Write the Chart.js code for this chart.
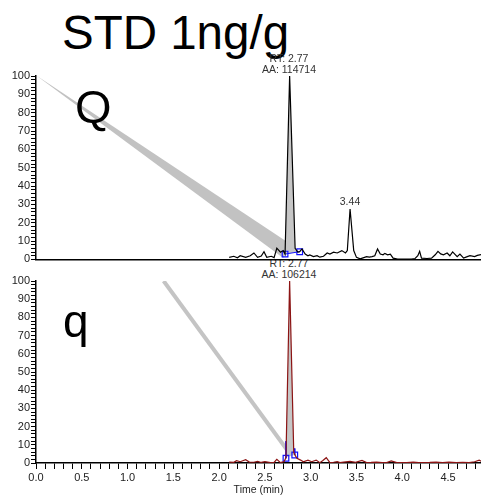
<!DOCTYPE html>
<html>
<head>
<meta charset="utf-8">
<script src="https://cdn.jsdelivr.net/npm/chart.js@4/dist/chart.umd.min.js"></script>
<style>
  html, body { margin: 0; padding: 0; background: #fff; }
  body { width: 481px; height: 496px; position: relative; overflow: hidden;
         font-family: "Liberation Sans", Arial, sans-serif; }
  .t { position: absolute; line-height: 1; white-space: nowrap; color: #000; }
  .ann { position: absolute; line-height: 1; white-space: nowrap; color: #333;
         font-size: 10.5px; width: 100px; text-align: center; }
  canvas { position: absolute; left: 0; }
</style>
</head>
<body>
<div class="t" style="left:62px;top:9px;font-size:47.5px;">STD 1ng/g</div>
<div class="ann" style="left:239px;top:258px;">RT: 2.77</div>
<div class="ann" style="left:239px;top:269px;">AA: 106214</div>
<canvas id="quanChart" width="481" height="204" style="top:63px"></canvas>
<canvas id="qualChart" width="481" height="231" style="top:265px"></canvas>
<div class="t" style="left:75px;top:83px;font-size:47px;">Q</div>
<div class="t" style="left:63px;top:298px;font-size:46px;">q</div>
<div class="ann" style="left:239px;top:53px;">RT: 2.77</div>
<div class="ann" style="left:239px;top:64px;">AA: 114714</div>
<div class="ann" style="left:300px;top:196px;">3.44</div>

<script>
// quantifier trace (Q), time in min, relative abundance in %
const quanTime = [2.11, 2.16, 2.20, 2.23, 2.29, 2.34, 2.38, 2.42, 2.46, 2.49, 2.52, 2.57, 2.60, 2.63, 2.67, 2.70,
  2.72, 2.77, 2.83, 2.86, 2.88, 2.905, 2.94, 2.97, 2.99, 3.03, 3.07, 3.10, 3.14, 3.18, 3.21, 3.25, 3.29,
  3.34, 3.38, 3.40, 3.43, 3.47, 3.50, 3.54, 3.58, 3.61, 3.64, 3.67, 3.70, 3.73, 3.76, 3.79, 3.81, 3.84,
  3.87, 3.90, 3.95, 4.00, 4.05, 4.10, 4.14, 4.17, 4.19, 4.21, 4.27, 4.32, 4.36, 4.39, 4.42, 4.45, 4.49,
  4.52, 4.55, 4.60, 4.63, 4.67, 4.71, 4.74, 4.79, 4.82, 4.86];
const quanInt = [1.1, 1.7, 0.9, 2.0, 1.1, 2.0, 3.5, 1.1, 1.8, 4.2, 1.1, 1.7, 1.0, 6.1, 3.9, 4.8,
  2.9, 100, 6, 4, 4.2, 5.7, 2.9, 2.0, 2.4, 1.5, 2.0, 1.2, 1.7, 3.5, 2.9, 3.9, 3.5,
  4.8, 3.5, 4.8, 27.5, 4.8, 1.1, 0.3, 1.0, 1.5, 1.2, 1.5, 2.0, 5.7, 2.9, 2.5, 3.3, 2.5,
  2.9, 0.7, 0.2, 0.2, 0.2, 0.2, 0.5, 2.0, 4.4, 0.7, 0.5, 0.7, 2.5, 4.4, 3.0, 2.5, 3.5,
  2.0, 4.1, 1.5, 2.9, 0.7, 1.5, 2.0, 1.5, 2.2, 2.6];

// qualifier trace (q)
const qualTime = [2.11, 2.16, 2.19, 2.23, 2.29, 2.33, 2.38, 2.42, 2.46, 2.50, 2.56, 2.60, 2.63, 2.67, 2.71,
  2.73, 2.77, 2.815, 2.826, 2.85, 2.89, 2.92, 2.97, 3.01, 3.06, 3.10, 3.13, 3.17, 3.21, 3.25, 3.29, 3.32,
  3.36, 3.43, 3.49, 3.56, 3.61, 3.66, 3.72, 3.78, 3.83, 3.88, 3.94, 4.05, 4.12, 4.18, 4.23, 4.30, 4.37,
  4.44, 4.51, 4.59, 4.66, 4.73, 4.79, 4.84, 4.86];
const qualInt = [0.5, 0.4, 1.3, 0.7, 1.8, 0.5, 0.4, 0.9, 0.3, 0.7, 0.2, 0.3, 2.0, 0.2, 0.8,
  3.0, 100, 6, 4.6, 2.6, 1.6, 0.7, 1.6, 0.7, 1.6, 0.2, 1.2, 2.9, 0.2, 0.4, 0.7, 0.2,
  0.5, 0.9, 0.4, 1.4, 0.2, 0.3, 0.5, 0.2, 0.2, 1.1, 0.2, 0.2, 0.5, 0.2, 0.2, 0.3, 0.5,
  0.2, 0.5, 0.2, 0.3, 0.2, 0.7, 1.6, 1.0];

// integrated peak areas and their start/end markers
const quanPeakTime = [2.72, 2.77, 2.83, 2.86, 2.88];
const quanPeakInt = [2.9, 100, 6, 4, 4.2];
const quanMarkTime = [2.72, 2.88];
const quanMarkInt = [2.9, 4.2];
const qualPeakTime = [2.73, 2.77, 2.815, 2.826];
const qualPeakInt = [3.0, 100, 6, 4.6];
const qualMarkTime = [2.73, 2.826];
const qualMarkInt = [2.6, 4.4];
const qualEdgeTime = [2.73, 2.73, null, 2.826, 2.826];
const qualEdgeInt = [12, 2.6, null, 8, 4.4];

// grey callout wedges
const quanBandTime = [0, 2.79, 2.70];
const quanBandInt = [100.4, 8, 0.8];
const qualBandTime = [1.394, 2.745];
const qualBandInt = [100, 7];

const X_MAX = 4.86;

function pts(xs, ys) {
  return xs.map((x, i) => (x === null ? { x: NaN, y: null } : { x: x, y: ys[i] }));
}

function yAxis() {
  return {
    min: 0, max: 100,
    afterFit: s => { s.width = 36; },
    ticks: {
      stepSize: 2, autoSkip: false, padding: 1, color: "#222",
      font: { family: "Liberation Sans", size: 11 },
      callback: v => (v % 10 === 0 ? v : "")
    },
    grid: { drawOnChartArea: false, drawTicks: true, tickLength: 5, color: "#000" },
    border: { color: "#000", width: 1.5 }
  };
}

function baseOptions(xAxis, padding) {
  return {
    responsive: false,
    animation: false,
    layout: { padding: padding, autoPadding: false },
    plugins: { legend: { display: false }, tooltip: { enabled: false } },
    elements: { point: { radius: 0 }, line: { tension: 0 } },
    scales: { x: xAxis, y: yAxis() }
  };
}

// top panel: Q
new Chart(document.getElementById("quanChart"), {
  type: "line",
  data: {
    datasets: [
      { data: pts(quanTime, quanInt), borderColor: "#000", borderWidth: 1.2, fill: false },
      { data: pts(quanMarkTime, quanMarkInt), borderColor: "#1010ff", borderWidth: 1,
        pointStyle: "rect", pointRadius: 4, pointBorderColor: "#1010ff", pointBorderWidth: 1.2,
        pointBackgroundColor: "rgba(0,0,0,0)" },
      { data: pts(quanPeakTime, quanPeakInt), borderWidth: 0, backgroundColor: "#c6c6c6", fill: "shape" },
      { data: pts(quanBandTime, quanBandInt), borderWidth: 0, backgroundColor: "#c2c2c2", fill: "shape" }
    ]
  },
  options: baseOptions({
    type: "linear", min: 0, max: X_MAX,
    afterFit: s => { s.height = 0; },
    ticks: { display: false },
    grid: { display: false, drawTicks: false },
    border: { color: "#000", width: 1.5 }
  }, { top: 13, bottom: 0, left: 0, right: 0 })
});

// bottom panel: q
new Chart(document.getElementById("qualChart"), {
  type: "line",
  data: {
    datasets: [
      { data: pts(qualTime, qualInt), borderColor: "#8c1414", borderWidth: 1.2, fill: false },
      { data: pts(qualMarkTime, qualMarkInt), showLine: false,
        pointStyle: "rect", pointRadius: 4, pointBorderColor: "#1010ff", pointBorderWidth: 1.2,
        pointBackgroundColor: "rgba(0,0,0,0)" },
      { data: pts(qualEdgeTime, qualEdgeInt), borderColor: "#1010ff", borderWidth: 1, spanGaps: false },
      { data: pts(qualPeakTime, qualPeakInt), borderWidth: 0, backgroundColor: "#c6c6c6", fill: "shape" },
      { data: pts(qualBandTime, qualBandInt), borderColor: "#c4c4c4", borderWidth: 4, fill: false }
    ]
  },
  options: baseOptions({
    type: "linear", min: 0, max: X_MAX,
    afterFit: s => { s.height = 33; },
    ticks: {
      stepSize: 0.1, includeBounds: false, autoSkip: false, maxRotation: 0, padding: 2, color: "#222",
      font: { family: "Liberation Sans", size: 11 },
      callback: v => (Math.abs(v * 2 - Math.round(v * 2)) < 1e-6 ? v.toFixed(1) : "")
    },
    grid: { drawOnChartArea: false, drawTicks: true, tickLength: 6, color: "#000" },
    border: { color: "#000", width: 1.5 },
    title: { display: true, text: "Time (min)", color: "#222", padding: { top: 0, bottom: 0 },
      font: { family: "Liberation Sans", size: 10.5 } }
  }, { top: 16, bottom: 0, left: 0, right: 0 })
});
</script>
</body>
</html>
